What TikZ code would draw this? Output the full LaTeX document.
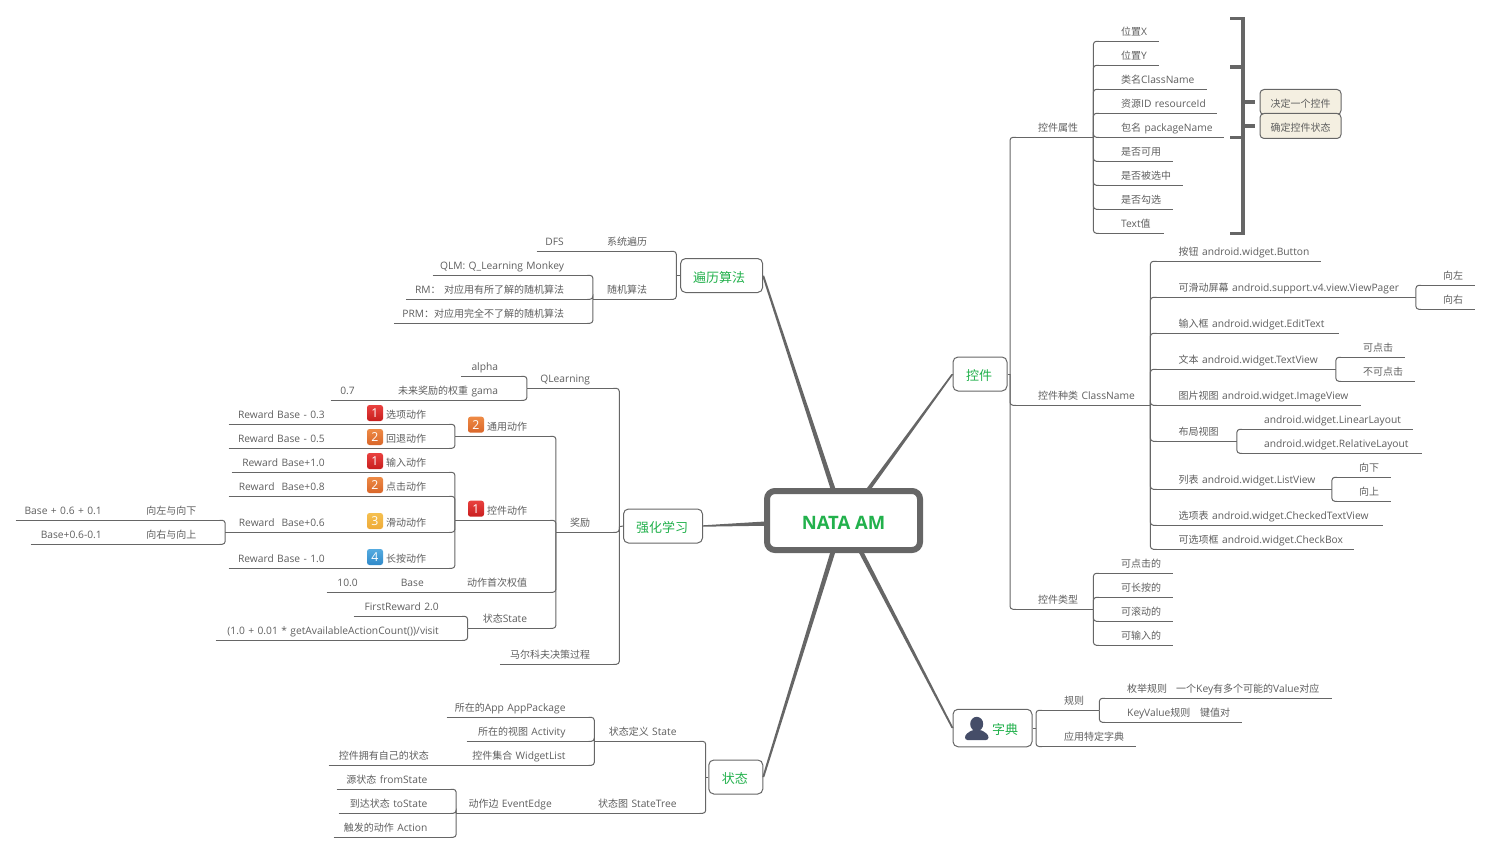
\documentclass[tikz,border=0pt]{standalone}
\usepackage{fontspec}
\setmainfont[Scale=1.025]{Open Sans}
\newfontfamily\cjkfont{Noto Sans CJK SC}
\newXeTeXintercharclass\cjkclass
\newcount\cjkcode
\cjkcode="4E00
\loop\XeTeXcharclass\cjkcode=\cjkclass\relax\ifnum\cjkcode<"9FFF \advance\cjkcode by 1 \repeat
\XeTeXcharclass"FF1A=\cjkclass\relax
\XeTeXinterchartoks 0 \cjkclass={\cjkfont}
\XeTeXinterchartoks 4095 \cjkclass={\cjkfont}
\XeTeXinterchartoks \cjkclass 0={\rmfamily}
\XeTeXinterchartoks 4095 0={\rmfamily}
\XeTeXinterchartokenstate=1
\definecolor{linec}{HTML}{666666}
\definecolor{textc}{HTML}{5E5E5E}
\definecolor{greenc}{HTML}{22B14C}
\definecolor{notec}{HTML}{F4EFE1}
\definecolor{personc}{HTML}{454D68}
\definecolor{bdr1}{HTML}{E9413F}\definecolor{bdr2}{HTML}{C81E1E}
\definecolor{bdo1}{HTML}{EE8A45}\definecolor{bdo2}{HTML}{D9662A}
\definecolor{bdy1}{HTML}{F5C050}\definecolor{bdy2}{HTML}{EEAA38}
\definecolor{bdb1}{HTML}{55ABE0}\definecolor{bdb2}{HTML}{2F89C9}
\tikzset{
  link/.style={draw=linec,line width=1pt,rounded corners=3pt},
  topic/.style={inner xsep=0pt,inner ysep=3.5pt,text height=8pt,text depth=2.5pt,text=textc,font=\fontsize{10pt}{12pt}\selectfont},
  rtopic/.style={topic,anchor=south west,text width=#1 pt,align=left,execute at begin node=\hspace*{28pt},
    append after command={([xshift=4pt]\tikzlastnode.south west) edge[link] (\tikzlastnode.south east)}},
  ltopic/.style={topic,anchor=south east,text width=#1 pt,align=right,execute at end node=\hspace*{29pt},
    append after command={(\tikzlastnode.south west) edge[link] ([xshift=-4pt]\tikzlastnode.south east)}},
  mainbox/.style={draw=linec,line width=1pt,rounded corners=5pt,fill=white,text=greenc,font=\fontsize{13pt}{15pt}\selectfont,minimum width=#1 pt,minimum height=34pt,inner sep=0pt,text height=12.5pt,text depth=0pt,execute at end node=\hspace*{2pt}},
  notebox/.style={draw=linec,line width=1pt,rounded corners=4pt,fill=notec,text=textc,font=\fontsize{10pt}{12pt}\selectfont,minimum width=81pt,minimum height=25pt,inner sep=0pt,text height=11.6pt,text depth=0pt},
  badge/.style 2 args={rounded corners=2.5pt,top color=#1,bottom color=#2,text=white,font=\fontsize{12pt}{12pt}\selectfont,minimum size=16pt,inner sep=0pt},
  bracket/.style={draw=linec,line width=3.5pt},
  trunk/.style={fill=linec},
}
\begin{document}
\begin{tikzpicture}[x=1pt,y=-1pt]
\useasboundingbox (0,0) rectangle (1491,853);

\node[mainbox=82,text height=14pt] (alg) at (721.6,275.5) {遍历算法\hspace*{3pt}};
\node[mainbox=54] (ctrl) at (980,374) {控件};
\node[mainbox=79] (learn) at (663,526) {强化学习};
\node[mainbox=54] (state) at (735.8,777) {状态};
\node[mainbox=79,minimum height=37.5pt] (dict) at (992.5,728) {\hspace*{27pt}字典};
\coordinate (algj) at (676.3,275.5);
\coordinate (ctrlj) at (1010,374);
\coordinate (learnj) at (619.3,526.7);
\coordinate (statej) at (705.7,777);
\coordinate (dictj) at (1036,728);

\coordinate (rootn) at (834,492);
\coordinate (roote) at (866.5,492);
\coordinate (rootw) at (768,523.5);
\coordinate (rootsw) at (833.5,550);
\coordinate (rootse) at (860,550);
\fill[trunk] ([xshift=-2.5pt]rootn) -- ([xshift=2.5pt]rootn) -- ([xshift=1pt]alg.east) -- ([xshift=-1pt]alg.east) -- cycle;
\fill[trunk] ([xshift=-2.5pt]roote) -- ([xshift=2.5pt]roote) -- ([xshift=1pt]ctrl.west) -- ([xshift=-1pt]ctrl.west) -- cycle;
\fill[trunk] ([yshift=-2.2pt]rootw) -- ([yshift=2.2pt]rootw) -- ([yshift=.7pt]learn.east) -- ([yshift=-.7pt]learn.east) -- cycle;
\fill[trunk] ([xshift=-2.5pt]rootsw) -- ([xshift=2.5pt]rootsw) -- ([xshift=1pt]state.east) -- ([xshift=-1pt]state.east) -- cycle;
\fill[trunk] ([xshift=-2.5pt]rootse) -- ([xshift=2.5pt]rootse) -- ([xshift=1pt]dict.west) -- ([xshift=-1pt]dict.west) -- cycle;
\node[draw=linec,line width=6pt,rounded corners=8pt,fill=white,text=greenc,minimum width=153pt,minimum height=59pt,inner sep=0pt,text height=18pt,text depth=0pt,font=\fontsize{18pt}{21pt}\bfseries\selectfont] (root) at (843.5,520.5) {NATA AM};

\node[rtopic=83] (attr) at (1010,137.3) {控件属性};
\node[rtopic=140] (kind) at (1010,405.3) {控件种类 ClassName};
\node[rtopic=83] (ctype) at (1010,609.3) {控件类型};

\node[rtopic=66] (posx) at (1093,41.3) {位置X};
\node[rtopic=66] (posy) at (1093,65.3) {位置Y};
\node[rtopic=114] (clsname) at (1093,89.3) {类名ClassName};
\node[rtopic=124] (resid) at (1093,113.3) {资源ID resourceId};
\node[rtopic=131] (pkg) at (1093,137.3) {包名 packageName};
\node[rtopic=80] (usable) at (1093,161.3) {是否可用};
\node[rtopic=90] (selected) at (1093,185.3) {是否被选中};
\node[rtopic=80] (checked) at (1093,209.3) {是否勾选};
\node[rtopic=71] (textval) at (1093,233.3) {Text值};

\node[rtopic=170] (button) at (1150.5,261.3) {按钮 android.widget.Button};
\node[rtopic=265] (pager) at (1150.5,297.3) {可滑动屏幕 android.support.v4.view.ViewPager};
\node[rtopic=188] (edit) at (1150.5,333.3) {输入框 android.widget.EditText};
\node[rtopic=185] (textv) at (1150.5,369.3) {文本 android.widget.TextView};
\node[rtopic=210] (image) at (1150.5,405.3) {图片视图 android.widget.ImageView};
\node[rtopic=86] (layout) at (1150.5,441.3) {布局视图};
\node[rtopic=181] (listv) at (1150.5,489.3) {列表 android.widget.ListView};
\node[rtopic=232] (checktext) at (1150.5,525.3) {选项表 android.widget.CheckedTextView};
\node[rtopic=203] (checkbox) at (1150.5,549.3) {可选项框 android.widget.CheckBox};

\node[rtopic=60] (pleft) at (1415,285.3) {向左};
\node[rtopic=60] (pright) at (1415,309.3) {向右};
\node[rtopic=70] (click) at (1335,357.3) {可点击};
\node[rtopic=80] (noclick) at (1335,381.3) {不可点击};
\node[rtopic=177] (linear) at (1236,429.3) {android.widget.LinearLayout};
\node[rtopic=186] (relative) at (1236,453.3) {android.widget.RelativeLayout};
\node[rtopic=60] (ldown) at (1331,477.3) {向下};
\node[rtopic=60] (lup) at (1331,501.3) {向上};

\node[rtopic=80] (tclick) at (1093,573.3) {可点击的};
\node[rtopic=80] (tlong) at (1093,597.3) {可长按的};
\node[rtopic=80] (tscroll) at (1093,621.3) {可滚动的};
\node[rtopic=80] (tinput) at (1093,645.3) {可输入的};

\node[rtopic=63] (rule) at (1036,710.3) {规则};
\node[rtopic=100] (appdict) at (1036,746.5) {应用特定字典};
\node[rtopic=73] (enumrule) at (1099,698.3) {枚举规则};
\node[rtopic=184] (enumval) at (1148,698.3) {一个Key有多个可能的Value对应};
\node[rtopic=100] (kvrule) at (1099,722.3) {KeyValue规则};
\node[rtopic=70] (kvval) at (1172,722.3) {键值对};

\node[notebox] (decide) at (1300.5,102) {决定一个控件};
\node[notebox] (status) at (1300.5,126) {确定控件状态};
\coordinate (bktop) at (1243,18.5);
\draw[bracket] (1230,18.5) -- (bktop) -- (1243,67) -- (1230,67);
\draw[bracket] (1230,67) -- (1243,67) -- (1243,137.5) -- (1230,137.5);
\draw[bracket] (1230,137.5) -- (1243,137.5) -- (1243,233.5) -- (1230,233.5);
\draw[bracket,shorten >=5pt] (decide.west -| bktop) -- (decide.west);
\draw[bracket,shorten >=5pt] (status.west -| bktop) -- (status.west);

\node[ltopic=83] (systrav) at (676.3,251.3) {系统遍历};
\node[ltopic=56] (dfs) at (593,251.3) {DFS};
\node[ltopic=83] (randalg) at (676.3,299.3) {随机算法};
\node[ltopic=160.3] (qlm) at (593.3,275.3) {QLM: Q\_Learning Monkey};
\node[ltopic=187] (rm) at (593.3,299.3) {RM：\ 对应用有所了解的随机算法};
\node[ltopic=199] (prm) at (593.3,323.3) {PRM：对应用完全不了解的随机算法};

\node[ltopic=92] (qlearn) at (619.3,388.3) {QLearning};
\node[ltopic=63] (reward) at (619.3,532.3) {奖励};
\node[ltopic=119] (mdp) at (619.3,664.3) {马尔科夫决策过程};
\node[ltopic=66] (alpha) at (527.3,376.3) {alpha};
\node[ltopic=147] (gama) at (527.3,400.3) {未来奖励的权重 gama};
\node[ltopic=53] (gamaval) at (384,400.3) {0.7};

\node[ltopic=101] (common) at (556.3,436.3) {通用动作};
\node[ltopic=101] (widget) at (556.3,520.3) {控件动作};
\node[ltopic=106] (firstw) at (556.3,592.3) {动作首次权值};
\node[ltopic=88.3] (rstate) at (556.3,628.3) {状态State};
\node[ltopic=73] (base) at (453,592.3) {Base};
\node[ltopic=60] (baseval) at (387,592.3) {10.0};
\node[ltopic=114] (firstr) at (468,616.3) {FirstReward 2.0};
\node[ltopic=252] (visit) at (468,640.3) {(1.0 + 0.01 * getAvailableActionCount())/visit};

\node[ltopic=101] (optact) at (455.3,424.3) {选项动作};
\node[ltopic=101] (backact) at (455.3,448.3) {回退动作};
\node[ltopic=101] (inact) at (455.3,472.3) {输入动作};
\node[ltopic=101] (clickact) at (455.3,496.3) {点击动作};
\node[ltopic=101] (scrollact) at (455.3,532.3) {滑动动作};
\node[ltopic=101] (longact) at (455.3,568.3) {长按动作};
\node[ltopic=125] (optval) at (354,424.3) {Reward Base - 0.3};
\node[ltopic=125] (backval) at (354,448.3) {Reward Base - 0.5};
\node[ltopic=122] (inval) at (354,472.3) {Reward Base+1.0};
\node[ltopic=125] (clickval) at (354,496.3) {Reward\ \ Base+0.8};
\node[ltopic=128.4] (scrollval) at (354,532.3) {Reward\ \ Base+0.6};
\node[ltopic=125] (longval) at (354,568.3) {Reward Base - 1.0};
\node[ltopic=94.6] (ldn) at (225.6,520.3) {向左与向下};
\node[ltopic=94.6] (rup) at (225.6,544.3) {向右与向上};
\node[ltopic=115] (ldnval) at (131,520.3) {Base + 0.6 + 0.1};
\node[ltopic=100] (rupval) at (131,544.3) {Base+0.6-0.1};

\node[badge={bdo1}{bdo2}] (mkcommon) at (476,424.7) {2};
\node[badge={bdr1}{bdr2}] (mkwidget) at (476,508.7) {1};
\node[badge={bdr1}{bdr2}] (mkopt) at (375,413) {1};
\node[badge={bdo1}{bdo2}] (mkback) at (375,437) {2};
\node[badge={bdr1}{bdr2}] (mkin) at (375,461) {1};
\node[badge={bdo1}{bdo2}] (mkclick) at (375,485) {2};
\node[badge={bdy1}{bdy2}] (mkscroll) at (375,521) {3};
\node[badge={bdb1}{bdb2}] (mklong) at (375,557) {4};

\node[ltopic=111] (sdef) at (705.7,741.3) {状态定义 State};
\node[ltopic=125] (stree) at (705.7,813.3) {状态图 StateTree};
\node[ltopic=124.4] (sedge) at (581,813.3) {动作边 EventEdge};
\node[ltopic=147.7] (sapp) at (594.7,717.3) {所在的App AppPackage};
\node[ltopic=127.7] (sact) at (594.7,741.3) {所在的视图 Activity};
\node[ltopic=134.7] (swid) at (594.7,765.3) {控件集合 WidgetList};
\node[ltopic=129] (swidval) at (458,765.3) {控件拥有自己的状态};
\node[ltopic=119.6] (sfrom) at (456.6,789.3) {源状态 fromState};
\node[ltopic=117.6] (sto) at (456.6,813.3) {到达状态 toState};
\node[ltopic=122.6] (saction) at (456.6,837.3) {触发的动作 Action};

\fill[personc] (976.7,724) ellipse (6.5pt and 7.2pt);
\fill[personc,rounded corners=2.5pt] (965,740) -- (965,735) -- (972,730) -- (981.5,730) -- (988.5,735) -- (988.5,740) -- cycle;

\draw[link] (ctrl.east) -- (ctrlj);
\foreach \c in {attr,kind,ctype} \draw[link] (ctrlj) |- ([xshift=6pt]\c.south west);
\foreach \c in {posx,posy,clsname,resid,pkg,usable,selected,checked,textval} \draw[link] (attr.south east) |- ([xshift=6pt]\c.south west);
\foreach \c in {button,pager,edit,textv,image,layout,listv,checktext,checkbox} \draw[link] (kind.south east) |- ([xshift=6pt]\c.south west);
\foreach \c in {tclick,tlong,tscroll,tinput} \draw[link] (ctype.south east) |- ([xshift=6pt]\c.south west);
\foreach \c in {pleft,pright} \draw[link] (pager.south east) |- ([xshift=6pt]\c.south west);
\foreach \c in {click,noclick} \draw[link] (textv.south east) |- ([xshift=6pt]\c.south west);
\foreach \c in {linear,relative} \draw[link] (layout.south east) |- ([xshift=6pt]\c.south west);
\foreach \c in {ldown,lup} \draw[link] (listv.south east) |- ([xshift=6pt]\c.south west);
\draw[link] (dict.east) -- (dictj);
\foreach \c in {rule,appdict} \draw[link] (dictj) |- ([xshift=6pt]\c.south west);
\foreach \c in {enumrule,kvrule} \draw[link] (rule.south east) |- ([xshift=6pt]\c.south west);
\draw[link] (enumrule.south east) -- (enumval.south east);
\draw[link] (kvrule.south east) -- (kvval.south east);

\draw[link] (alg.west) -- (algj);
\foreach \c in {systrav,randalg} \draw[link] (algj) |- ([xshift=-6pt]\c.south east);
\draw[link] (systrav.south west) -- ([xshift=-6pt]dfs.south east);
\foreach \c in {qlm,rm,prm} \draw[link] (randalg.south west) |- ([xshift=-6pt]\c.south east);

\draw[link] (learn.west) -- (learnj);
\foreach \c in {qlearn,reward,mdp} \draw[link] (learnj) |- ([xshift=-6pt]\c.south east);
\foreach \c in {alpha,gama} \draw[link] (qlearn.south west) |- ([xshift=-6pt]\c.south east);
\draw[link] (gama.south west) -- ([xshift=-6pt]gamaval.south east);
\foreach \c in {common,widget,firstw,rstate} \draw[link] (reward.south west) |- ([xshift=-6pt]\c.south east);
\draw[link] (firstw.south west) -- ([xshift=-6pt]base.south east);
\draw[link] (base.south west) -- ([xshift=-6pt]baseval.south east);
\foreach \c in {firstr,visit} \draw[link] (rstate.south west) |- ([xshift=-6pt]\c.south east);
\foreach \c in {optact,backact} \draw[link] (common.south west) |- ([xshift=-6pt]\c.south east);
\foreach \c in {inact,clickact,scrollact,longact} \draw[link] (widget.south west) |- ([xshift=-6pt]\c.south east);
\foreach \a/\b in {optact/optval,backact/backval,inact/inval,clickact/clickval,scrollact/scrollval,longact/longval} \draw[link] (\a.south west) -- ([xshift=-6pt]\b.south east);
\foreach \c in {ldn,rup} \draw[link] (scrollval.south west) |- ([xshift=-6pt]\c.south east);
\draw[link] (ldn.south west) -- ([xshift=-6pt]ldnval.south east);
\draw[link] (rup.south west) -- ([xshift=-6pt]rupval.south east);

\draw[link] (state.west) -- (statej);
\foreach \c in {sdef,stree} \draw[link] (statej) |- ([xshift=-6pt]\c.south east);
\foreach \c in {sapp,sact,swid} \draw[link] (sdef.south west) |- ([xshift=-6pt]\c.south east);
\draw[link] (swid.south west) -- ([xshift=-6pt]swidval.south east);
\draw[link] (stree.south west) -- ([xshift=-6pt]sedge.south east);
\foreach \c in {sfrom,sto,saction} \draw[link] (sedge.south west) |- ([xshift=-6pt]\c.south east);
\end{tikzpicture}
\end{document}
